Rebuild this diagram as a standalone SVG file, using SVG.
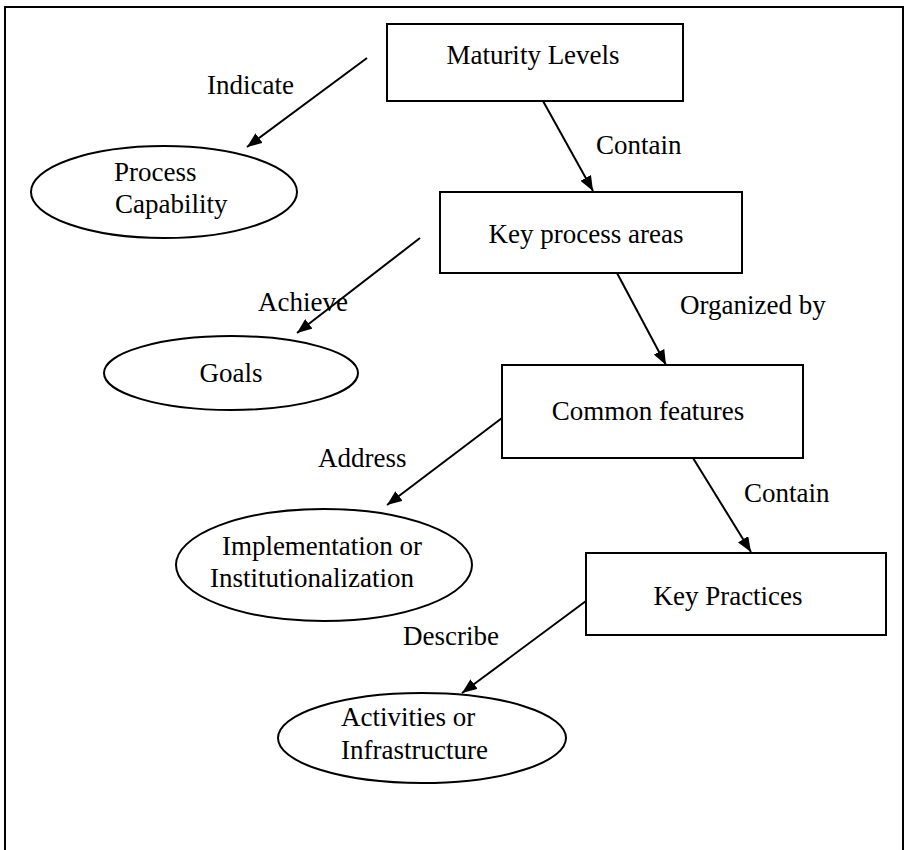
<svg xmlns="http://www.w3.org/2000/svg" width="906" height="850" viewBox="0 0 906 850">
  <style>
    .box { fill: #ffffff; stroke: #000000; stroke-width: 2; }
    .oval { fill: #ffffff; stroke: #000000; stroke-width: 2; }
    .frame { fill: none; stroke: #000000; stroke-width: 2; }
    .edge { fill: none; stroke: #000000; stroke-width: 2; marker-end: url(#arrow); }
    text { font-family: "Liberation Serif", "Times New Roman", serif; font-size: 27px; fill: #000000; }
    .mid { text-anchor: middle; }
  </style>
  <defs>
    <marker id="arrow" markerUnits="userSpaceOnUse" markerWidth="16" markerHeight="12" refX="15" refY="6" orient="auto">
      <path d="M0,0 L15,6 L0,12 z" fill="#000000"/>
    </marker>
  </defs>

  <rect width="906" height="850" fill="#ffffff"/>
  <!-- page frame -->
  <rect class="frame" x="5" y="7" width="898" height="880"/>

  <!-- concept nodes -->
  <g id="maturity-levels">
    <rect class="box" x="387" y="24" width="296" height="77"/>
    <text class="mid" x="533" y="64">Maturity Levels</text>
  </g>
  <g id="process-capability">
    <ellipse class="oval" cx="164" cy="192" rx="133" ry="46"/>
    <text x="114" y="181">Process</text>
    <text x="115" y="213">Capability</text>
  </g>
  <g id="key-process-areas">
    <rect class="box" x="440" y="192" width="302" height="81"/>
    <text class="mid" x="586" y="243">Key process areas</text>
  </g>
  <g id="goals">
    <ellipse class="oval" cx="231" cy="373" rx="127" ry="37"/>
    <text class="mid" x="231" y="382">Goals</text>
  </g>
  <g id="common-features">
    <rect class="box" x="502" y="365" width="301" height="93"/>
    <text class="mid" x="648" y="420">Common features</text>
  </g>
  <g id="implementation-institutionalization">
    <ellipse class="oval" cx="324" cy="565" rx="148" ry="56"/>
    <text class="mid" x="322" y="555">Implementation or</text>
    <text class="mid" x="312" y="587">Institutionalization</text>
  </g>
  <g id="key-practices">
    <rect class="box" x="586" y="553" width="300" height="82"/>
    <text class="mid" x="728" y="605">Key Practices</text>
  </g>
  <g id="activities-infrastructure">
    <ellipse class="oval" cx="422" cy="738" rx="144" ry="45"/>
    <text x="341" y="726">Activities or</text>
    <text x="341" y="759">Infrastructure</text>
  </g>

  <!-- relations between concepts -->
  <g id="connectors">
    <line class="edge" x1="367" y1="58" x2="247" y2="147"/>
    <line class="edge" x1="543" y1="101" x2="593" y2="191"/>
    <line class="edge" x1="420" y1="238" x2="297" y2="333"/>
    <line class="edge" x1="617" y1="273" x2="666" y2="365"/>
    <line class="edge" x1="502" y1="418" x2="387" y2="505"/>
    <line class="edge" x1="693" y1="458" x2="751" y2="552"/>
    <line class="edge" x1="586" y1="601" x2="462" y2="693"/>

    <text x="207" y="94">Indicate</text>
    <text x="596" y="154">Contain</text>
    <text x="258" y="311">Achieve</text>
    <text x="680" y="314">Organized by</text>
    <text x="318" y="467">Address</text>
    <text x="744" y="502">Contain</text>
    <text x="403" y="645">Describe</text>
  </g>
</svg>
